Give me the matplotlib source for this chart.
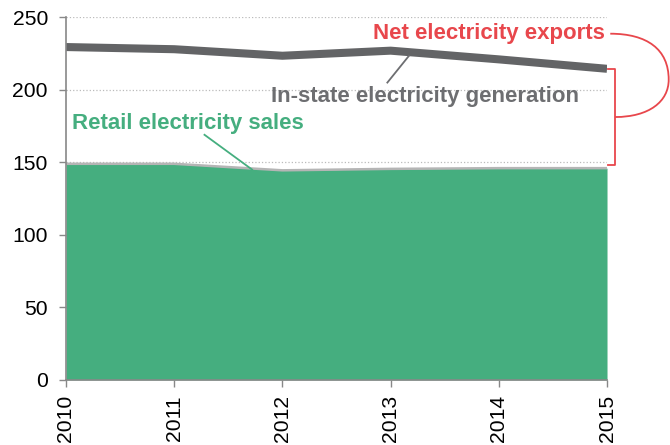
import matplotlib.pyplot as plt
from matplotlib.path import Path
from matplotlib.patches import PathPatch

plt.rcParams['font.family'] = ['Liberation Sans', 'DejaVu Sans']

years = [2010, 2011, 2012, 2013, 2014, 2015]
generation = [229.5, 228.0, 223.5, 227.0, 221.0, 214.5]
retail_sales = [149.0, 149.0, 144.5, 145.5, 146.0, 146.0]
y_ticks = [0, 50, 100, 150, 200, 250]

green = '#45ae7f'
dark_gray = '#636466'
text_gray = '#6d6e71'
red = '#e8474c'

fig = plt.figure(figsize=(6.7, 4.45), dpi=100)
ax = fig.add_axes([0.0985, 0.1463, 0.8075, 0.8148])

# retail sales as filled area with a light edge on top
ax.fill_between(years, 0, retail_sales, color=green, linewidth=0, zorder=2)
ax.plot(years, retail_sales, color='#b5b5b5', linewidth=1.8, zorder=3)

# in-state generation line
ax.plot(years, generation, color=dark_gray, linewidth=5.8, solid_capstyle='butt', zorder=4)

ax.set_xlim(years[0], years[-1])
ax.set_ylim(0, 250)
ax.set_yticks(y_ticks)
ax.set_xticks(years)
ax.set_xticklabels([str(y) for y in years], rotation=90)
ax.tick_params(axis='both', labelsize=15.2, colors='#888888', labelcolor='black',
               length=5, width=1)
ax.tick_params(axis='y', pad=8)
ax.tick_params(axis='x', pad=6)
ax.grid(axis='y', color='#bbbbbb', linestyle=':', linewidth=0.9, zorder=1)
for side in ['top', 'right']:
    ax.spines[side].set_visible(False)
for side in ['left', 'bottom']:
    ax.spines[side].set_color('#888888')
    ax.spines[side].set_linewidth(1.2)
    ax.spines[side].set_zorder(5)

# labels and leader lines
ax.text(2014.98, 238.5, 'Net electricity exports', color=red, fontsize=16,
        fontweight='bold', ha='right', va='center')
ax.text(2014.74, 195.5, 'In-state electricity generation', color=text_gray,
        fontsize=16, fontweight='bold', ha='right', va='center')
ax.text(2010.06, 176.5, 'Retail electricity sales', color=green, fontsize=16,
        fontweight='bold', ha='left', va='center')
ax.plot([2012.97, 2013.17], [205, 223.5], color=text_gray, linewidth=1.3, zorder=5)
ax.plot([2011.28, 2011.72], [169, 145], color=green, linewidth=1.3, zorder=5)

# red bracket spanning the exports gap
bx = 2015.075
top = generation[-1]
bottom = retail_sales[-1] + 2
mid = (top + bottom) / 2
ax.plot([2015.01, bx, bx, 2015.01], [top, top, bottom, bottom], color=red,
        linewidth=1.3, clip_on=False, zorder=5)
verts = [(bx, mid), (2015.39, mid), (2015.57, 192), (2015.57, 207),
         (2015.57, 228), (2015.37, 238.7), (2015.03, 238.7)]
codes = [Path.MOVETO] + [Path.CURVE4] * 6
ax.add_patch(PathPatch(Path(verts, codes), facecolor='none', edgecolor=red,
                       linewidth=1.3, clip_on=False, zorder=5))

fig.savefig('out.png', dpi=100)
